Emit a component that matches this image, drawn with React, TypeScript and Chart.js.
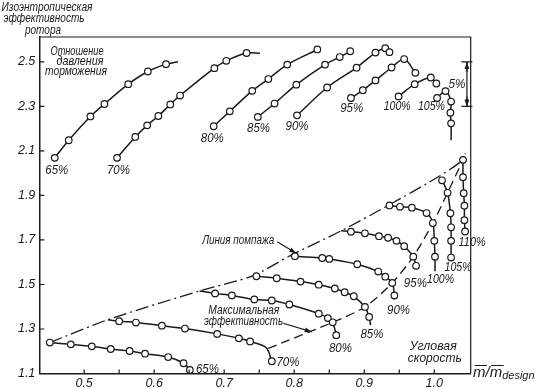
import React, { useEffect, useRef } from 'react';
import { Chart, registerables } from 'chart.js';

Chart.register(...registerables);

type P = [number, number];

// ---- axis ticks ----
const xTickValues = [0.5, 0.55, 0.6, 0.65, 0.7, 0.75, 0.8, 0.85, 0.9, 0.95, 1.0];
const xLabelValues = [0.5, 0.6, 0.7, 0.8, 0.9, 1.0];
const yTickValues = [1.1, 1.3, 1.5, 1.7, 1.9, 2.1, 2.3, 2.5];

// ---- speed line names ----
const effNames = ['65%', '70%', '80%', '85%', '90%', '95%', '100%', '105%'];
const prNames = ['65%', '70%', '80%', '85%', '90%', '95%', '100%', '105%', '110%'];

// ---- rotor isentropic efficiency (scaled, upper family) ----
const eff65: P[] = [[0.458, 2.069], [0.478, 2.148], [0.509, 2.255], [0.529, 2.311], [0.563, 2.4], [0.591, 2.457], [0.617, 2.49], [0.634, 2.501]];
const eff70: P[] = [[0.547, 2.069], [0.573, 2.163], [0.59, 2.215], [0.606, 2.257], [0.623, 2.309], [0.637, 2.349], [0.686, 2.472], [0.703, 2.505], [0.732, 2.54], [0.751, 2.539]];
const eff80: P[] = [[0.685, 2.211], [0.708, 2.278], [0.74, 2.37], [0.763, 2.423], [0.79, 2.488], [0.833, 2.556]];
const eff85: P[] = [[0.748, 2.253], [0.772, 2.313], [0.803, 2.398], [0.844, 2.488], [0.865, 2.522], [0.88, 2.548]];
const eff90: P[] = [[0.804, 2.26], [0.847, 2.385], [0.889, 2.474], [0.916, 2.542], [0.93, 2.562], [0.936, 2.544]];
const eff95: P[] = [[0.881, 2.338], [0.898, 2.373], [0.916, 2.417], [0.939, 2.475], [0.957, 2.513], [0.973, 2.451]];
const eff100: P[] = [[0.949, 2.345], [0.972, 2.4], [0.995, 2.43], [1.003, 2.403]];
const eff105: P[] = [[1.004, 2.338], [1.016, 2.369], [1.024, 2.322], [1.023, 2.272], [1.024, 2.224], [1.024, 2.148]];

// ---- total pressure ratio (lower family) ----
const pr65: P[] = [[0.451, 1.239], [0.481, 1.231], [0.511, 1.222], [0.538, 1.21], [0.565, 1.201], [0.587, 1.189], [0.62, 1.174], [0.642, 1.146], [0.651, 1.116]];
const pr70: P[] = [[0.534, 1.342], [0.55, 1.335], [0.574, 1.329], [0.611, 1.315], [0.644, 1.302], [0.69, 1.278], [0.721, 1.258], [0.737, 1.244], [0.76, 1.216], [0.768, 1.155]];
const pr80: P[] = [[0.665, 1.471], [0.687, 1.46], [0.711, 1.451], [0.743, 1.433], [0.768, 1.428], [0.793, 1.41], [0.835, 1.369], [0.848, 1.349], [0.855, 1.33], [0.86, 1.272]];
const pr85: P[] = [[0.746, 1.537], [0.775, 1.528], [0.809, 1.513], [0.835, 1.499], [0.858, 1.482], [0.872, 1.465], [0.885, 1.447], [0.901, 1.399], [0.907, 1.354], [0.909, 1.317]];
const pr90: P[] = [[0.794, 1.629], [0.801, 1.627], [0.84, 1.619], [0.85, 1.615], [0.89, 1.591], [0.92, 1.558], [0.93, 1.535], [0.94, 1.507], [0.943, 1.451], [0.943, 1.433]];
const pr95: P[] = [[0.867, 1.741], [0.881, 1.737], [0.901, 1.73], [0.921, 1.717], [0.934, 1.71], [0.946, 1.696], [0.957, 1.672], [0.97, 1.625], [0.974, 1.584]];
const pr100: P[] = [[0.936, 1.855], [0.951, 1.849], [0.968, 1.845], [0.989, 1.821], [0.998, 1.776], [1.0, 1.696], [1.001, 1.625], [1.001, 1.559]];
const pr105: P[] = [[1.011, 1.968], [1.019, 1.912], [1.023, 1.82], [1.024, 1.757], [1.024, 1.696], [1.024, 1.621]];
const pr110: P[] = [[1.041, 2.06], [1.041, 1.982], [1.042, 1.91], [1.043, 1.854], [1.043, 1.789], [1.044, 1.738]];

// ---- surge line and max-efficiency line ----
const surgeLine: P[] = [[0.451, 1.239], [0.534, 1.342], [0.665, 1.471], [0.741, 1.539], [0.794, 1.629], [0.867, 1.741], [0.93, 1.848], [1.007, 1.986], [1.041, 2.06], [1.044, 2.089]];
const maxEffLine: P[] = [[0.763, 1.213], [0.855, 1.33], [0.901, 1.399], [0.94, 1.507], [0.97, 1.625], [0.998, 1.776], [1.019, 1.912], [1.041, 2.06]];

// points drawn without a marker (line ends / surge starts)
const eff65Bare = [7];
const eff70Bare = [9];
const eff105Bare = [5];
const pr70Bare = [0, 8];
const pr80Bare = [0];
const pr85Bare = [9];
const pr90Bare = [0, 9];
const pr95Bare = [0];
const pr100Bare = [7];

const FONT = '"Liberation Sans", Arial, sans-serif';
const INK = '#1a1a1a';

function curve(pts: P[], bare: number[] = []) {
  return {
    data: pts.map(([x, y]) => ({ x, y })),
    borderColor: INK,
    borderWidth: 1.5,
    pointRadius: pts.map((_, i) => (bare.includes(i) ? 0 : 3.3)),
    pointBorderWidth: 1.2,
    pointBackgroundColor: '#fff',
    pointBorderColor: INK,
    tension: 0.3,
    fill: false,
    order: 1,
  };
}

function dashed(pts: P[], dash: number[]) {
  return {
    data: pts.map(([x, y]) => ({ x, y })),
    borderColor: INK,
    borderWidth: 1.3,
    borderDash: dash,
    pointRadius: 0,
    tension: 0.25,
    fill: false,
    order: 2,
  };
}

// annotation anchors (data coords)
const effLabelAt: P[] = [[0.461, 2.013], [0.549, 2.013], [0.683, 2.158], [0.749, 2.203], [0.804, 2.212], [0.882, 2.291], [0.947, 2.298], [0.996, 2.298]];
const prLabelAt: P[] = [[0.676, 1.119], [0.791, 1.15], [0.866, 1.213], [0.911, 1.276], [0.949, 1.384], [0.973, 1.505], [1.009, 1.523], [1.034, 1.577], [1.054, 1.69]];

function arrow(ctx: CanvasRenderingContext2D, x1: number, y1: number, x2: number, y2: number) {
  ctx.beginPath();
  ctx.moveTo(x1, y1);
  ctx.lineTo(x2, y2);
  ctx.stroke();
  const a = Math.atan2(y2 - y1, x2 - x1);
  const L = 7, W = 2.4;
  ctx.beginPath();
  ctx.moveTo(x2, y2);
  ctx.lineTo(x2 - L * Math.cos(a) + W * Math.sin(a), y2 - L * Math.sin(a) - W * Math.cos(a));
  ctx.lineTo(x2 - L * Math.cos(a) - W * Math.sin(a), y2 - L * Math.sin(a) + W * Math.cos(a));
  ctx.closePath();
  ctx.fill();
}

const decor = {
  id: 'decor',
  afterDraw(chart: any) {
    const { ctx, chartArea: ca, scales } = chart;
    const xs = scales.x, ys = scales.y;
    const px = (v: number) => xs.getPixelForValue(v);
    const py = (v: number) => ys.getPixelForValue(v);
    ctx.save();
    ctx.strokeStyle = INK;
    ctx.fillStyle = INK;

    // top & right frame
    ctx.lineWidth = 1.2;
    ctx.beginPath();
    ctx.moveTo(ca.left, ca.top);
    ctx.lineTo(ca.right, ca.top);
    ctx.lineTo(ca.right, ca.bottom);
    ctx.stroke();

    // inside ticks
    ctx.beginPath();
    yTickValues.forEach((v) => {
      ctx.moveTo(ca.left, py(v));
      ctx.lineTo(ca.left + 5, py(v));
    });
    xTickValues.forEach((v) => {
      ctx.moveTo(px(v), ca.bottom);
      ctx.lineTo(px(v), ca.bottom - 4);
    });
    ctx.stroke();

    // speed labels
    ctx.font = `italic 13px ${FONT}`;
    ctx.textAlign = 'center';
    ctx.textBaseline = 'middle';
    effLabelAt.forEach(([x, y], i) => ctx.fillText(effNames[i], px(x), py(y), effNames[i].length > 3 ? 27 : 23));
    prLabelAt.forEach(([x, y], i) => ctx.fillText(prNames[i], px(x), py(y), prNames[i].length > 3 ? 27 : 23));

    // 5% bracket
    const bx = px(1.0466), bt = py(2.5), bb = py(2.3);
    ctx.lineWidth = 1.2;
    ctx.beginPath();
    ctx.moveTo(bx, bt); ctx.lineTo(bx, bb);
    ctx.moveTo(bx - 5.5, bt); ctx.lineTo(bx + 5.5, bt);
    ctx.moveTo(bx - 5.5, bb); ctx.lineTo(bx + 5.5, bb);
    ctx.stroke();
    arrow(ctx, bx, bt + 10, bx, bt);
    arrow(ctx, bx, bb - 10, bx, bb);
    ctx.fillText('5%', px(1.0324), py(2.398), 17);

    // annotations
    ctx.fillText('Линия помпажа', px(0.72), py(1.699), 72);
    ctx.lineWidth = 1.1;
    arrow(ctx, px(0.7757), py(1.692), px(0.8029), py(1.64));
    ctx.fillText('Максимальная', px(0.7281), py(1.384), 71);
    ctx.fillText('эффективность', px(0.7276), py(1.336), 79);
    arrow(ctx, px(0.7843), py(1.326), px(0.825), py(1.287));
    ctx.fillText('Угловая', px(0.9986), py(1.224), 47);
    ctx.fillText('скорость', px(1.0007), py(1.167), 54);

    // titles (pixel)
    ctx.font = `italic 13px ${FONT}`;
    ctx.fillText('Изоэнтропическая', 47, 7, 91);
    ctx.fillText('эффективность', 44, 18, 81);
    ctx.fillText('ротора', 43, 30, 36);
    ctx.fillText('Отношение', 77, 51, 53);
    ctx.fillText('давления', 80, 61, 47);
    ctx.fillText('торможения', 76, 71, 62);

    // x-axis title  m/m design
    ctx.textAlign = 'left';
    ctx.textBaseline = 'alphabetic';
    ctx.font = `italic 15px ${FONT}`;
    let x0 = 473;
    const base = 377;
    const mW = ctx.measureText('m').width;
    ctx.fillText('m', x0, base);
    ctx.lineWidth = 1;
    ctx.beginPath();
    ctx.moveTo(x0 + 1.5, base - 11.5); ctx.lineTo(x0 + mW + 1.5, base - 11.5);
    ctx.stroke();
    x0 += mW;
    ctx.fillText('/', x0, base);
    x0 += ctx.measureText('/').width;
    ctx.fillText('m', x0, base);
    ctx.beginPath();
    ctx.moveTo(x0 + 1.5, base - 11.5); ctx.lineTo(x0 + mW + 1.5, base - 11.5);
    ctx.stroke();
    x0 += mW;
    ctx.font = `italic 11px ${FONT}`;
    ctx.fillText('design', x0, base + 2, 536 - x0);

    ctx.restore();
  },
};

export default function App() {
  const ref = useRef<HTMLCanvasElement>(null);
  useEffect(() => {
    const chart = new Chart(ref.current as HTMLCanvasElement, {
      type: 'line',
      data: {
        datasets: [
          curve(eff65, eff65Bare),
          curve(eff70, eff70Bare),
          curve(eff80),
          curve(eff85),
          curve(eff90),
          curve(eff95),
          curve(eff100),
          curve(eff105, eff105Bare),
          curve(pr65),
          curve(pr70, pr70Bare),
          curve(pr80, pr80Bare),
          curve(pr85, pr85Bare),
          curve(pr90, pr90Bare),
          curve(pr95, pr95Bare),
          curve(pr100, pr100Bare),
          curve(pr105),
          curve(pr110),
          dashed(surgeLine, [13, 4, 2, 4]),
          dashed(maxEffLine, [9, 5]),
        ] as any,
      },
      options: {
        responsive: false,
        animation: false,
        events: [],
        layout: { padding: { left: 0, top: 37, right: 65.3, bottom: 0 } },
        plugins: { legend: { display: false }, tooltip: { enabled: false } },
        scales: {
          x: {
            type: 'linear',
            min: 0.436,
            max: 1.052,
            afterBuildTicks: (s: any) => {
              s.ticks = xTickValues.map((value) => ({ value }));
            },
            afterFit: (s: any) => {
              s.height = 15.5;
            },
            ticks: {
              autoSkip: false,
              maxRotation: 0,
              padding: 3,
              color: INK,
              font: { family: FONT, size: 12.5, style: 'italic' },
              callback: (v: any) => {
                const n = Number(v);
                return xLabelValues.some((l) => Math.abs(l - n) < 1e-6) ? n.toFixed(1) : '';
              },
            },
            grid: { display: true, drawOnChartArea: false, drawTicks: false },
            border: { display: true, color: INK, width: 1.5 },
          },
          y: {
            type: 'linear',
            min: 1.1,
            max: 2.612,
            afterBuildTicks: (s: any) => {
              s.ticks = yTickValues.map((value) => ({ value }));
            },
            afterFit: (s: any) => {
              s.width = 39.3;
            },
            ticks: {
              autoSkip: false,
              padding: 4,
              color: INK,
              font: { family: FONT, size: 12.5, style: 'italic' },
              callback: (v: any) => Number(v).toFixed(1),
            },
            grid: { display: true, drawOnChartArea: false, drawTicks: false },
            border: { display: true, color: INK, width: 1.5 },
          },
        },
      },
      plugins: [decor],
    });
    return () => chart.destroy();
  }, []);
  return (
    <div style={{ position: 'fixed', left: 0, top: 0, width: 536, height: 389, background: '#fff' }}>
      <canvas ref={ref} width={536} height={389} style={{ display: 'block', width: 536, height: 389 }} />
    </div>
  );
}
